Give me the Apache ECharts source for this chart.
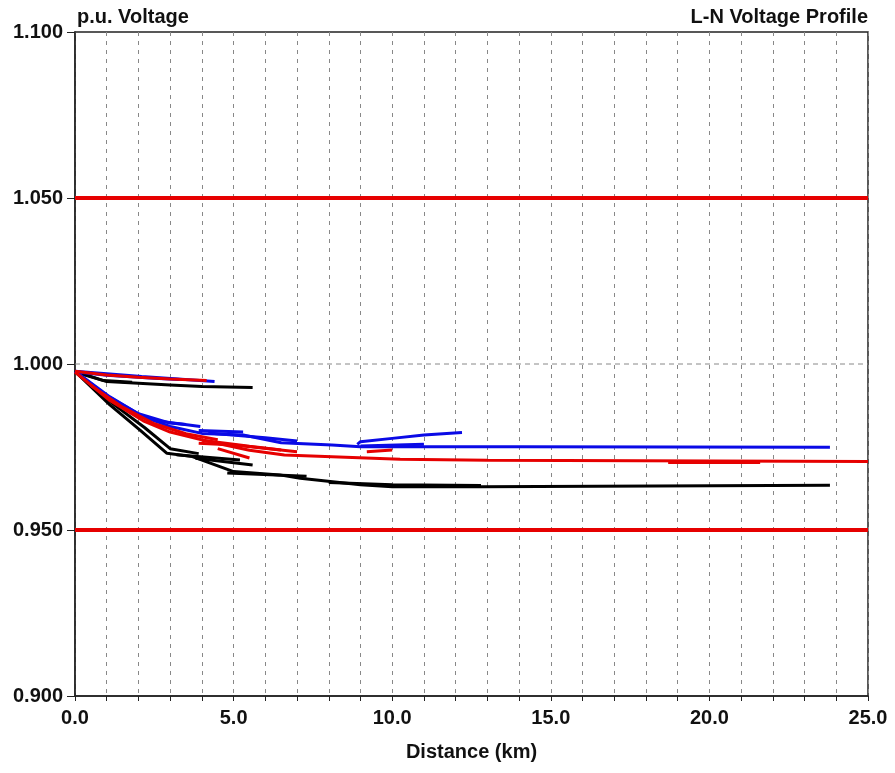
<!DOCTYPE html>
<html>
<head>
<meta charset="utf-8">
<script src="https://cdn.jsdelivr.net/npm/echarts@6/dist/echarts.min.js"></script>
<style>
  html, body { margin: 0; padding: 0; background: #fff; }
  #chart { width: 895px; height: 773px; }
</style>
</head>
<body>
<div id="chart"></div>
<script>
// 电压曲线数据 [距离 km, 标幺电压]
const blackUpper = [[0, 0.9978], [1.0, 0.9947], [3.0, 0.9937], [4.0, 0.9932], [5.6, 0.9929]];
const blackUpper2 = [[0, 0.9976], [0.9, 0.9950], [1.8, 0.9945]];
const blackMain = [[0, 0.9978], [1.1, 0.9877], [2.05, 0.9801], [2.9, 0.9731], [3.7, 0.9721], [5.0, 0.9676],
  [6.45, 0.9666], [7.1, 0.9656], [9.0, 0.9636], [10.0, 0.9630], [12.8, 0.9630], [12.85, 0.9635], [23.8, 0.9635]];
const blackB0 = [[0, 0.9977], [1.2, 0.9880], [2.2, 0.9808], [3.0, 0.9745], [3.9, 0.9730]];
const blackB1 = [[3.2, 0.9727], [5.2, 0.9711]];
const blackB2 = [[3.8, 0.9716], [5.6, 0.9696]];
const blackB3 = [[4.8, 0.9672], [7.3, 0.9662]];
const blackB4 = [[8.0, 0.9643], [10.0, 0.9636], [12.8, 0.9634]];

const blueUpper = [[0, 0.9978], [1.1, 0.9970], [2.1, 0.9962], [3.7, 0.9952], [4.4, 0.9947]];
const blueUpper2 = [[0, 0.9977], [1.0, 0.9966], [2.5, 0.9957], [3.3, 0.9953]];
const blueMain = [[0, 0.9978], [1.1, 0.9901], [2.15, 0.9841], [3.0, 0.9812], [4.0, 0.9791], [5.3, 0.9786],
  [6.5, 0.9763], [8.1, 0.9756], [9.0, 0.9751], [14.0, 0.9751], [23.8, 0.9749]];
const blueB0 = [[0, 0.9977], [1.0, 0.9905], [2.0, 0.9850], [3.0, 0.9822], [3.5, 0.9818]];
const blueB1 = [[2.5, 0.9830], [3.95, 0.9812]];
const blueB2 = [[3.9, 0.9800], [5.3, 0.9795]];
const blueB3 = [[4.2, 0.9792], [6.0, 0.9778], [7.0, 0.9768]];
const blueRise = [[8.9, 0.9758], [9.0, 0.9766], [10.0, 0.9776], [11.0, 0.9786], [12.2, 0.9794]];
const blueB4 = [[9.0, 0.9753], [11.0, 0.9758]];

const redUpper = [[0, 0.9978], [1.0, 0.9967], [2.0, 0.9960], [3.0, 0.9955], [4.15, 0.9950]];
const redMain = [[0, 0.9976], [1.1, 0.9890], [2.15, 0.9829], [3.0, 0.9795], [4.25, 0.9766], [5.5, 0.9740],
  [6.6, 0.9726], [10.25, 0.9713], [13.0, 0.9710], [13.05, 0.9706], [25.0, 0.9706]];
const redB0 = [[0.5, 0.9935], [1.5, 0.9870], [2.5, 0.9820], [3.5, 0.9790], [4.5, 0.9772]];
const redB1 = [[3.9, 0.9761], [5.0, 0.9756], [7.0, 0.9736]];
const redB2 = [[4.5, 0.9745], [5.5, 0.9717]];
const redB3 = [[9.2, 0.9736], [10.0, 0.9741]];
const redB4 = [[18.7, 0.9703], [21.6, 0.9703]];
const redB5 = [[4.0, 0.9770], [5.5, 0.9752], [6.5, 0.9741]];

// 电压上下限
const limitHigh = [[0, 1.05], [25, 1.05]];
const limitLow = [[0, 0.95], [25, 0.95]];
const refLine = [[0, 1.0], [25, 1.0]];

const yTicks = [0.9, 0.95, 1.0, 1.05, 1.1];

const groups = [
  ['#000000', [blackUpper, blackUpper2, blackMain, blackB0, blackB1, blackB2, blackB3, blackB4]],
  ['#0a0ae6', [blueUpper, blueUpper2, blueMain, blueB0, blueB1, blueB2, blueB3, blueRise, blueB4]],
  ['#e60000', [redUpper, redMain, redB0, redB1, redB2, redB3, redB4, redB5]]
];

const series = [
  {
    type: 'line', data: refLine, symbol: 'none', silent: true,
    lineStyle: { color: '#888', width: 1, type: [5, 4] }
  },
  {
    type: 'line', data: limitHigh, symbol: 'none', silent: true,
    lineStyle: { color: '#e60000', width: 4 }
  },
  {
    type: 'line', data: limitLow, symbol: 'none', silent: true,
    lineStyle: { color: '#e60000', width: 4 }
  }
];
groups.forEach(([color, lines]) => {
  lines.forEach(d => {
    series.push({
      type: 'line', data: d, symbol: 'none',
      lineStyle: { color: color, width: 3 }
    });
  });
});

const labelFont = { fontFamily: 'Liberation Sans', fontWeight: 'bold', fontSize: 20, color: '#111' };

const option = {
  backgroundColor: '#fff',
  animation: false,
  title: [
    { text: 'p.u. Voltage', left: 72, top: 2, textStyle: labelFont },
    { text: 'L-N Voltage Profile', right: 22, top: 2, textStyle: labelFont }
  ],
  grid: {
    left: 75, right: 27, top: 32, bottom: 77,
    show: true, borderColor: '#222', borderWidth: 1.5
  },
  xAxis: {
    type: 'value', min: 0, max: 25, interval: 1,
    name: 'Distance (km)', nameLocation: 'middle', nameGap: 46,
    nameTextStyle: labelFont,
    axisLine: { lineStyle: { color: '#222', width: 1.5 } },
    axisTick: { length: 5, lineStyle: { color: '#222' } },
    axisLabel: Object.assign({
      margin: 12,
      formatter: v => (v % 5 === 0 ? v.toFixed(1) : '')
    }, labelFont),
    splitLine: { show: true, lineStyle: { color: '#888', width: 1, type: [4, 5] } }
  },
  yAxis: {
    type: 'value', min: yTicks[0], max: yTicks[yTicks.length - 1], interval: 0.05,
    axisLine: { show: true, lineStyle: { color: '#222', width: 1.5 } },
    axisTick: { show: true, length: 8, lineStyle: { color: '#222' } },
    axisLabel: Object.assign({ margin: 12, formatter: v => v.toFixed(3) }, labelFont),
    splitLine: { show: false }
  },
  series: series
};

const chart = echarts.init(document.getElementById('chart'));
chart.setOption(option);
</script>
</body>
</html>
